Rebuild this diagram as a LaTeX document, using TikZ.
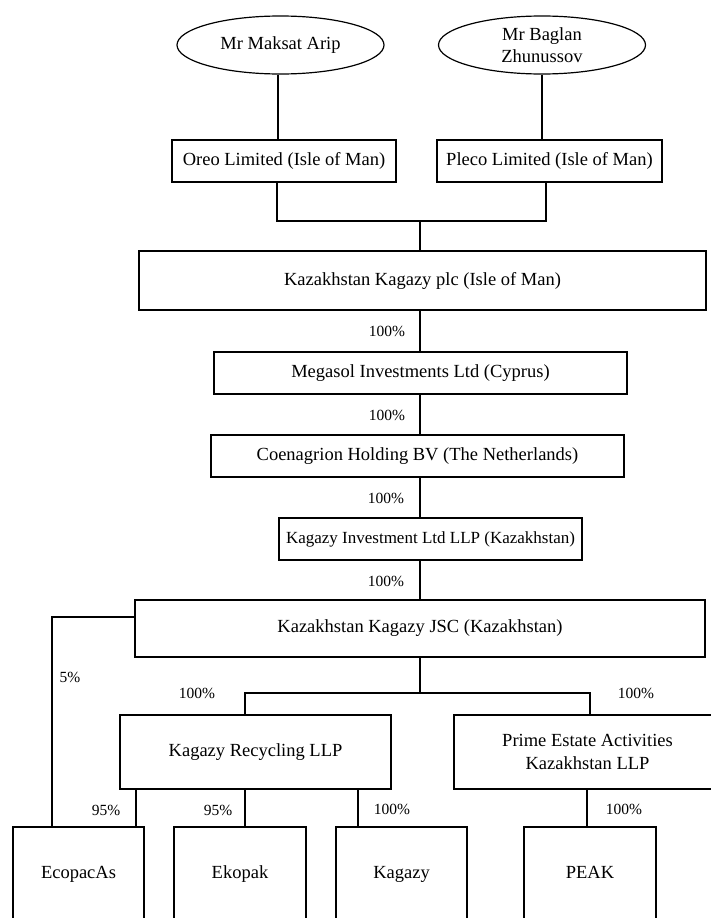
\documentclass[tikz,border=0pt]{standalone}
\usepackage{fontspec}
\setmainfont{Liberation Serif}
\usetikzlibrary{shapes.geometric}
\begin{document}
\begin{tikzpicture}[x=1pt,y=-1pt,line width=1.2pt,
  every node/.style={font=\fontsize{18.5}{22.5}\selectfont},
  firm/.style={draw,rectangle,inner sep=0pt,align=center},
  leaf/.style={firm,minimum height=94pt,text height=12pt,text depth=4pt},
  owner/.style={draw,ellipse,inner sep=0pt,align=center,minimum width=207pt,minimum height=58pt},
  pct/.style={inner sep=0pt,font=\fontsize{15.5}{18}\selectfont}]
\useasboundingbox (0,0) rectangle (711,918);
\clip (0,0) rectangle (711,918);
%
\node[owner] (arip) at (280.5,45) {Mr Maksat Arip};
\node[owner] (zhun) at (542,45) {Mr Baglan\\Zhunussov};
\node[firm,minimum width=224pt,minimum height=42pt] (oreo) at (284,161) {Oreo Limited (Isle of Man)};
\node[firm,minimum width=225pt,minimum height=42pt] (pleco) at (549.5,161) {Pleco Limited (Isle of Man)};
\node[firm,minimum width=567pt,minimum height=59pt] (plc) at (422.5,280.5) {Kazakhstan Kagazy plc (Isle of Man)};
\node[firm,minimum width=413pt,minimum height=42pt] (megasol) at (420.5,373) {Megasol Investments Ltd (Cyprus)};
\node[firm,minimum width=413pt,minimum height=42pt] (coen) at (417.5,456) {Coenagrion Holding BV (The Netherlands)};
\node[firm,minimum width=303pt,minimum height=42pt,font=\fontsize{17}{21}\selectfont] (kinv) at (430.5,539) {Kagazy Investment Ltd LLP (Kazakhstan)};
\node[firm,minimum width=570pt,minimum height=57pt] (jsc) at (420,628.5) {Kazakhstan Kagazy JSC (Kazakhstan)};
\node[firm,minimum width=271pt,minimum height=74pt] (recyc) at (255.5,752) {Kagazy Recycling LLP};
\node[firm,minimum width=267pt,minimum height=74pt] (prime) at (587.5,752) {Prime Estate Activities\\Kazakhstan LLP};
\node[leaf,minimum width=131pt] (ecopac) at (78.5,874) {EcopacAs};
\node[leaf,minimum width=132pt] (ekopak) at (240,874) {Ekopak};
\node[leaf,minimum width=131pt] (kagazy) at (401.5,874) {Kagazy};
\node[leaf,minimum width=132pt] (peak) at (590,874) {PEAK};
%
\coordinate (top) at (420,221);
\coordinate (fork) at (420,693);
\draw ([xshift=-2.5pt]arip.south) -- ([xshift=-2.5pt]arip.south |- oreo.north);
\draw (zhun.south) -- (zhun.south |- pleco.north);
\draw ([xshift=-7pt]oreo.south) |- (top) -| ([xshift=-3.5pt]pleco.south);
\draw (top) -- (top |- plc.north);
%
\draw (top |- plc.south) -- (top |- megasol.north);
\draw (top |- megasol.south) -- (top |- coen.north);
\draw (top |- coen.south) -- (top |- kinv.north);
\draw (top |- kinv.south) -- (top |- jsc.north);
\draw (jsc.south) -- (fork);
\draw ([xshift=-10.5pt]recyc.north) |- (fork) -| ([xshift=2.5pt]prime.north);
\draw ([yshift=11.5pt]jsc.west) -| ([xshift=-26.5pt]ecopac.north);
%
\draw ([xshift=-119.5pt]recyc.south) |- (ecopac.north);
\draw ([xshift=-10.5pt]recyc.south) |- (ekopak.north);
\draw ([xshift=102.5pt]recyc.south) |- (kagazy.north);
\draw ([xshift=-0.5pt]prime.south) |- (peak.north);
%
\node[pct] (p1) at (387,331) {100\%};
\node[pct] (p2) at (387,415) {100\%};
\node[pct] (p3) at (386,498) {100\%};
\node[pct] (p4) at (386,581) {100\%};
\node[pct] (p5) at (70,677) {5\%};
\node[pct] (p6) at (197,693) {100\%};
\node[pct] (p7) at (636,693) {100\%};
\node[pct] (p8) at (106,810) {95\%};
\node[pct] (p9) at (218,810) {95\%};
\node[pct] (p10) at (392,809) {100\%};
\node[pct] (p11) at (624,809) {100\%};
\end{tikzpicture}
\end{document}
